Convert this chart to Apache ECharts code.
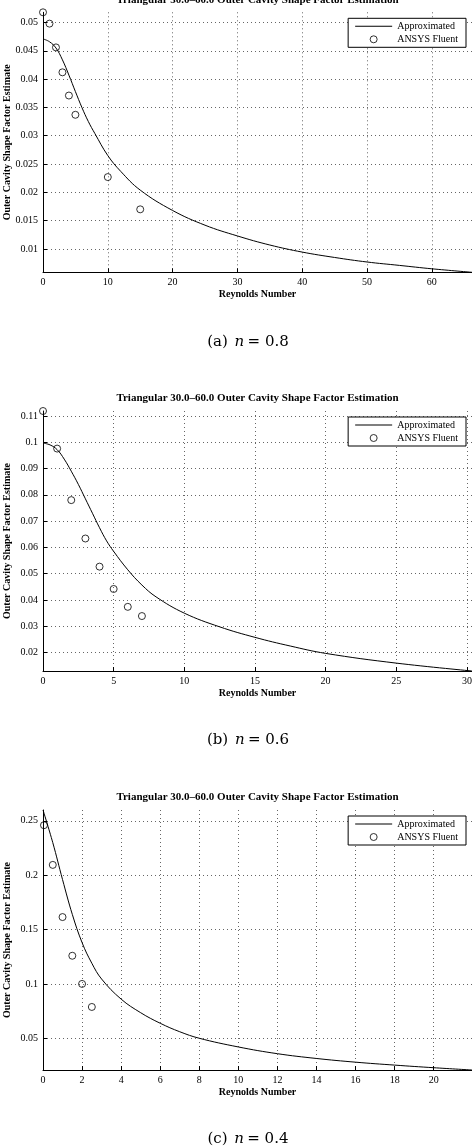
<!DOCTYPE html>
<html><head><meta charset="utf-8">
<script src="https://cdn.jsdelivr.net/npm/echarts@6/dist/echarts.min.js"></script>
<style>html,body{margin:0;padding:0;background:#fff}#c{width:472px;height:1148px}</style>
</head><body><div id="c"></div>
<script>
const titleText = 'Triangular 30.0\u201360.0 Outer Cavity Shape Factor Estimation';
const xName = 'Reynolds Number';
const yName = 'Outer Cavity Shape Factor Estimate';
const seriesNames = ['Approximated', 'ANSYS Fluent'];
const captionLabels = ['(a)', '(b)', '(c)'];
const captionValues = ['0.8', '0.6', '0.4'];

// (a) n = 0.8
const curveX_a = [0, 1, 2, 3, 4, 5, 6, 7, 8, 10, 12, 15, 20, 25, 30, 35, 40, 45, 50, 55, 60, 66.2];
const curveY_a = [0.0471, 0.0466, 0.0455, 0.0434, 0.0407, 0.0378, 0.0350, 0.0325, 0.0304, 0.0265, 0.0237, 0.0204, 0.0168, 0.0142, 0.0123, 0.0107, 0.00945, 0.0085, 0.0077, 0.0071, 0.0065, 0.00588];
const fluentX_a = [0, 1, 2, 3, 4, 5, 10, 15];
const fluentY_a = [0.0518, 0.0498, 0.0456, 0.0412, 0.0371, 0.0337, 0.0227, 0.0170];

// (b) n = 0.6
const curveX_b = [0, 0.5, 1, 1.5, 2, 2.5, 3, 3.5, 4, 4.5, 5, 6, 7, 8, 10, 12.5, 15, 17.5, 20, 25, 30.36];
const curveY_b = [0.0997, 0.0990, 0.0972, 0.0936, 0.0890, 0.0840, 0.0785, 0.0730, 0.0675, 0.0625, 0.0585, 0.0515, 0.0457, 0.0412, 0.0350, 0.0298, 0.0258, 0.0225, 0.0197, 0.0160, 0.0130];
const fluentX_b = [0, 1, 2, 3, 4, 5, 6, 7];
const fluentY_b = [0.1119, 0.0976, 0.0780, 0.0634, 0.0527, 0.0442, 0.0374, 0.0339];

// (c) n = 0.4
const curveX_c = [0, 0.5, 1, 1.5, 2, 2.5, 3, 4, 5, 6, 7, 8, 10, 12, 14, 16, 18, 20, 21.96];
const curveY_c = [0.2600, 0.2300, 0.1960, 0.1640, 0.1380, 0.1190, 0.1045, 0.0860, 0.0735, 0.0638, 0.0560, 0.0500, 0.0420, 0.0358, 0.0314, 0.0280, 0.0253, 0.0229, 0.0208];
const fluentX_c = [0.05, 0.5, 1, 1.5, 2, 2.5];
const fluentY_c = [0.2460, 0.2095, 0.1615, 0.1259, 0.1000, 0.0788];

const panels = [
  {cx: curveX_a, cy: curveY_a, fx: fluentX_a, fy: fluentY_a, xSplit: 6, ySplit: 9},
  {cx: curveX_b, cy: curveY_b, fx: fluentX_b, fy: fluentY_b, xSplit: 6, ySplit: 9},
  {cx: curveX_c, cy: curveY_c, fx: fluentX_c, fy: fluentY_c, xSplit: 11, ySplit: 5}
];

const FONT = 'Liberation Serif';
const tops = [12.3, 411, 810];
const plotH = 260, plotL = 43, plotW = 429;

const zip = (a, b) => a.map((v, i) => [v, b[i]]);

const grid = [], xAxis = [], yAxis = [], series = [], legend = [], graphic = [];
panels.forEach((p, i) => {
  const T = tops[i];
  grid.push({left: plotL, top: T, width: plotW, height: plotH, containLabel: false, outerBoundsMode: 'none'});
  const allY = p.cy.concat(p.fy);
  const yMin = Math.min(...allY), yMax = Math.max(...allY);
  const xMax = p.cx[p.cx.length - 1];
  const split = {show: true, showMinLine: false, showMaxLine: false,
    lineStyle: {color: '#666', width: 1, type: [1, 3]}};
  xAxis.push({
    gridIndex: i, type: 'value', min: 0, max: xMax, splitNumber: p.xSplit,
    axisLine: {show: true, onZero: false, lineStyle: {color: '#000', width: 1}},
    axisTick: {show: true, inside: true, length: 4, lineStyle: {color: '#000'}},
    axisLabel: {margin: 5, fontFamily: FONT, fontSize: 10, color: '#000', showMaxLabel: false},
    splitLine: split,
    name: xName, nameLocation: 'middle', nameGap: 17, nameMoveOverlap: false,
    nameTextStyle: {fontFamily: FONT, fontWeight: 'bold', fontSize: 10, color: '#000'}
  });
  yAxis.push({
    gridIndex: i, type: 'value', min: yMin, max: yMax, splitNumber: p.ySplit,
    axisLine: {show: true, onZero: false, lineStyle: {color: '#000', width: 1}},
    axisTick: {show: true, inside: true, length: 4, lineStyle: {color: '#000'}},
    axisLabel: {margin: 5, fontFamily: FONT, fontSize: 10, color: '#000', showMinLabel: false, showMaxLabel: false},
    splitLine: split,
    name: yName, nameLocation: 'middle', nameGap: 31, nameRotate: 90, nameMoveOverlap: false,
    nameTextStyle: {fontFamily: FONT, fontWeight: 'bold', fontSize: 10, color: '#000'}
  });
  series.push({
    name: seriesNames[0], type: 'line', xAxisIndex: i, yAxisIndex: i,
    data: zip(p.cx, p.cy), symbol: 'none', smooth: 0.4,
    lineStyle: {color: '#000', width: 1}, itemStyle: {color: '#000'}, z: 3
  });
  series.push({
    name: seriesNames[1], type: 'scatter', xAxisIndex: i, yAxisIndex: i,
    data: zip(p.fx, p.fy), symbol: 'circle', symbolSize: 7, clip: false,
    itemStyle: {color: 'rgba(0,0,0,0)', borderColor: '#000', borderWidth: 1}, z: 4
  });
  legend.push({
    data: [
      {name: seriesNames[0], icon: 'path://M0,0H37V1H0Z'},
      {name: seriesNames[1], itemStyle: {borderWidth: 1, borderColor: '#000', color: 'rgba(0,0,0,0)'}}
    ],
    orient: 'vertical', right: 6, top: T + 6,
    padding: [2, 8, 2, 7], itemGap: 1, itemWidth: 37, itemHeight: 7,
    borderColor: '#000', borderWidth: 1, backgroundColor: '#fff',
    selectedMode: false,
    textStyle: {fontFamily: FONT, fontSize: 10, color: '#000', lineHeight: 12}
  });
  graphic.push({
    type: 'text', x: plotL + plotW / 2, y: T - 12.5,
    style: {text: titleText, align: 'center', verticalAlign: 'middle',
      font: 'bold 11px "Liberation Serif"', fill: '#000'}
  });
  graphic.push({
    type: 'text', x: 248, y: T + 329.4,
    style: {
      text: '{p|' + captionLabels[i] + '}  {i|n} {p|= ' + captionValues[i] + '}',
      align: 'center', verticalAlign: 'middle',
      rich: {
        p: {fontFamily: 'DejaVu Serif', fontSize: 15, fill: '#000'},
        i: {fontFamily: 'DejaVu Serif', fontStyle: 'italic', fontSize: 15, fill: '#000'}
      }
    }
  });
});

const chart = echarts.init(document.getElementById('c'), null, {renderer: 'canvas'});
chart.setOption({
  animation: false, backgroundColor: '#fff',
  grid, xAxis, yAxis, series, legend, graphic
});
</script></body></html>
